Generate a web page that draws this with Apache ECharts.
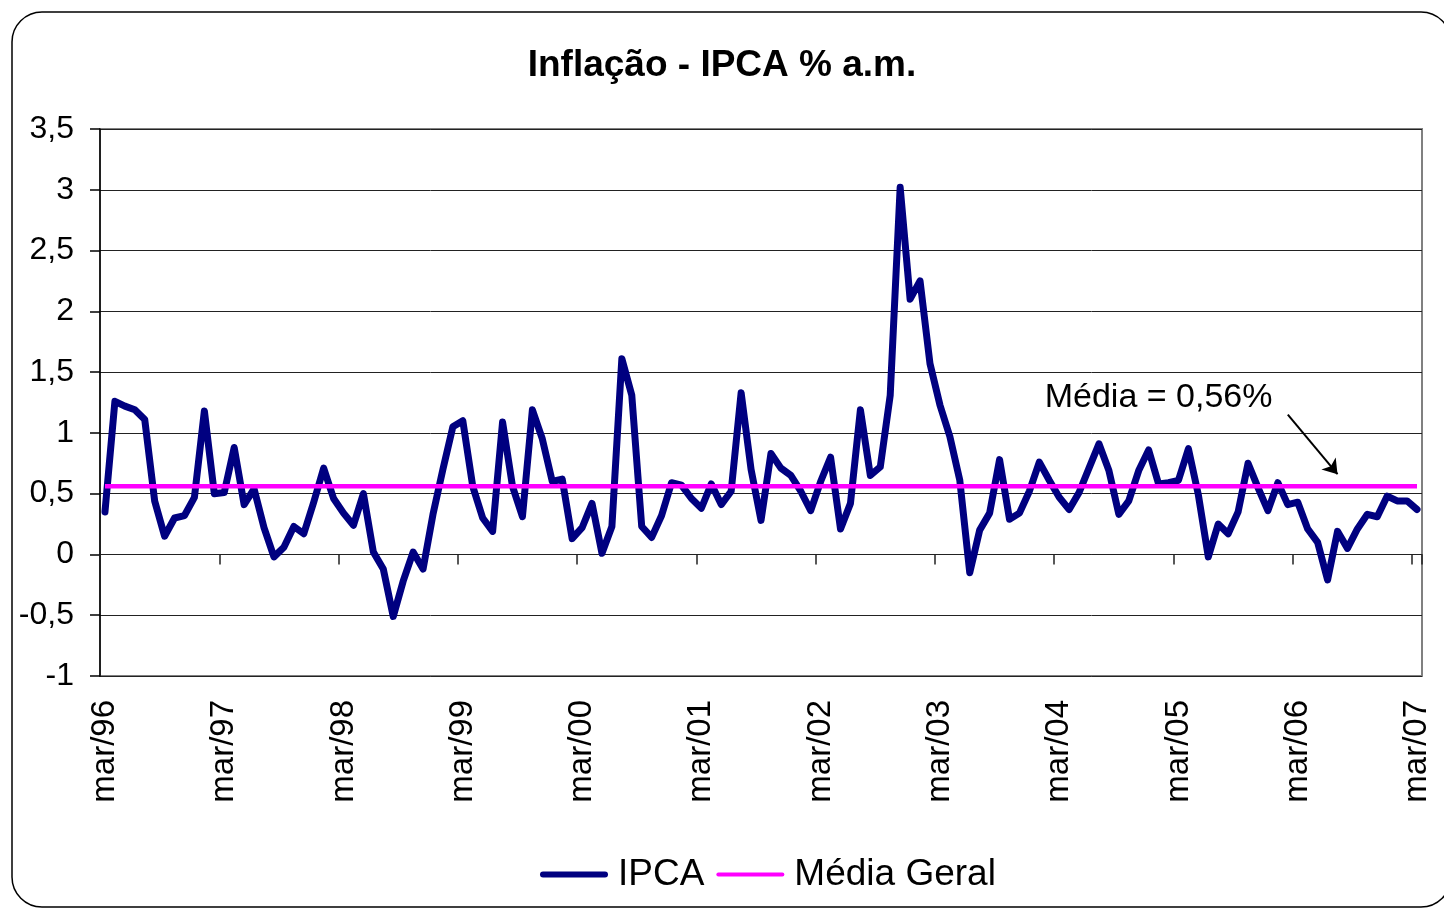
<!DOCTYPE html>
<html>
<head>
<meta charset="utf-8">
<title>Inflação - IPCA % a.m.</title>
<script src="https://cdn.jsdelivr.net/npm/echarts@6/dist/echarts.min.js"></script>
<style>
  html, body { margin: 0; padding: 0; background: #fff; }
  #chart { width: 1444px; height: 908px; }
</style>
</head>
<body>
<div id="chart"></div>
<script>
// meses mar/96 .. mar/07
var meses = [];
var nomes = ['jan', 'fev', 'mar', 'abr', 'mai', 'jun', 'jul', 'ago', 'set', 'out', 'nov', 'dez'];
for (var a = 1996; a <= 2007; a++) {
  for (var m = 0; m < 12; m++) {
    if (a === 1996 && m < 2) continue;
    if (a === 2007 && m > 2) break;
    meses.push(nomes[m] + '/' + String(a).slice(2));
  }
}

var ipca = [
  0.35, 1.26, 1.22, 1.19, 1.11, 0.44, 0.15, 0.30, 0.32, 0.47,
  1.18, 0.50, 0.51, 0.88, 0.41, 0.54, 0.22, -0.02, 0.06, 0.23, 0.17, 0.43,
  0.71, 0.46, 0.34, 0.24, 0.50, 0.02, -0.12, -0.51, -0.22, 0.02, -0.12, 0.33,
  0.70, 1.05, 1.10, 0.56, 0.30, 0.19, 1.09, 0.56, 0.31, 1.19, 0.95, 0.60,
  0.62, 0.13, 0.22, 0.42, 0.01, 0.23, 1.61, 1.31, 0.23, 0.14, 0.32, 0.59,
  0.57, 0.46, 0.38, 0.58, 0.41, 0.52, 1.33, 0.70, 0.28, 0.83, 0.71, 0.65,
  0.52, 0.36, 0.60, 0.80, 0.21, 0.42, 1.19, 0.65, 0.72, 1.31, 3.02, 2.10,
  2.25, 1.57, 1.23, 0.97, 0.61, -0.15, 0.20, 0.34, 0.78, 0.29, 0.34, 0.52,
  0.76, 0.61, 0.47, 0.37, 0.51, 0.71, 0.91, 0.69, 0.33, 0.44, 0.69, 0.86,
  0.58, 0.59, 0.61, 0.87, 0.49, -0.02, 0.25, 0.17, 0.35, 0.75, 0.55, 0.36,
  0.59, 0.41, 0.43, 0.21, 0.10, -0.21, 0.19, 0.05, 0.21, 0.33, 0.31, 0.48,
  0.44, 0.44, 0.37
];

var mediaGeral = 0.56;
var media = ipca.map(function () { return mediaGeral; });

var fonte = "'Liberation Sans', Arial, sans-serif";

var myChart = echarts.init(document.getElementById('chart'));
var option = {
  backgroundColor: '#fff',
  animation: false,
  textStyle: { fontFamily: fonte, color: '#000' },
  title: {
    text: 'Inflação - IPCA % a.m.',
    left: 'center',
    top: 47,
    padding: 0,
    textStyle: { fontSize: 37, fontWeight: 'bold', color: '#000', fontFamily: fonte }
  },
  legend: {
    left: 540,
    top: 856,
    padding: 0,
    itemWidth: 68,
    itemHeight: 12,
    itemGap: 12,
    symbolKeepAspect: true,
    textStyle: { fontSize: 37, color: '#000', fontFamily: fonte, padding: [0, 0, 0, 5] },
    data: [
      { name: 'IPCA', icon: 'path://M3,0 L65,0 A3,3 0 0 1 65,6 L3,6 A3,3 0 0 1 3,0 Z' },
      { name: 'Média Geral', icon: 'path://M2,0 L66,0 A2,2 0 0 1 66,4 L2,4 A2,2 0 0 1 2,0 Z' }
    ]
  },
  grid: {
    left: 100,
    top: 129,
    width: 1322,
    height: 547,
    show: true,
    borderColor: '#808080',
    borderWidth: 2,
    containLabel: false
  },
  xAxis: [{
    type: 'category',
    data: meses,
    boundaryGap: true,
    position: 'bottom',
    axisLine: { onZero: true, lineStyle: { color: '#222', width: 1 } },
    axisTick: { show: true, interval: 11, length: 10, lineStyle: { color: '#222', width: 1.5 } },
    axisLabel: { show: false },
    splitLine: { show: false }
  }, {
    type: 'category',
    data: meses,
    boundaryGap: true,
    position: 'bottom',
    axisLine: { show: false, onZero: false },
    axisTick: { show: false },
    axisLabel: {
      show: true,
      interval: 11,
      rotate: 90,
      margin: 24,
      fontSize: 33,
      color: '#000',
      fontFamily: fonte
    },
    splitLine: { show: false }
  }],
  yAxis: {
    type: 'value',
    min: -1,
    max: 3.5,
    interval: 0.5,
    axisLine: { show: true, lineStyle: { color: '#000', width: 1.5 } },
    axisTick: { show: true, length: 10, lineStyle: { color: '#000', width: 1.5 } },
    axisLabel: {
      margin: 26,
      fontSize: 32,
      color: '#000',
      fontFamily: fonte,
      formatter: function (v) { return String(v).replace('.', ','); }
    },
    splitLine: { show: true, lineStyle: { color: '#222', width: 1 } }
  },
  series: [{
    name: 'IPCA',
    type: 'line',
    data: ipca,
    symbol: 'none',
    color: '#000080',
    lineStyle: { color: '#000080', width: 7, join: 'round', cap: 'round' },
    z: 3
  }, {
    name: 'Média Geral',
    type: 'line',
    data: media,
    symbol: 'none',
    color: '#ff00ff',
    lineStyle: { color: '#ff00ff', width: 4.5 },
    z: 4,
    markLine: {
      silent: true,
      symbol: ['none', 'arrow'],
      symbolSize: 14,
      label: { show: false },
      lineStyle: { color: '#000', width: 2, type: 'solid' },
      data: [[{ coord: [119, 1.15] }, { coord: [124, 0.66] }]]
    },
    markPoint: {
      silent: true,
      symbol: 'rect',
      symbolSize: 1,
      itemStyle: { color: 'rgba(0,0,0,0)' },
      label: {
        show: true,
        position: 'inside',
        formatter: 'Média = 0,56%',
        fontSize: 34,
        color: '#000',
        fontFamily: fonte
      },
      data: [{ coord: [106, 1.29] }]
    }
  }],
  graphic: [{
    type: 'rect',
    silent: true,
    shape: { x: 12, y: 12, width: 1439, height: 895, r: 30 },
    style: { fill: 'none', stroke: '#000', lineWidth: 1.5 },
    z: -1
  }]
};
option && myChart.setOption(option);
window.addEventListener('resize', myChart.resize);
</script>
</body>
</html>
